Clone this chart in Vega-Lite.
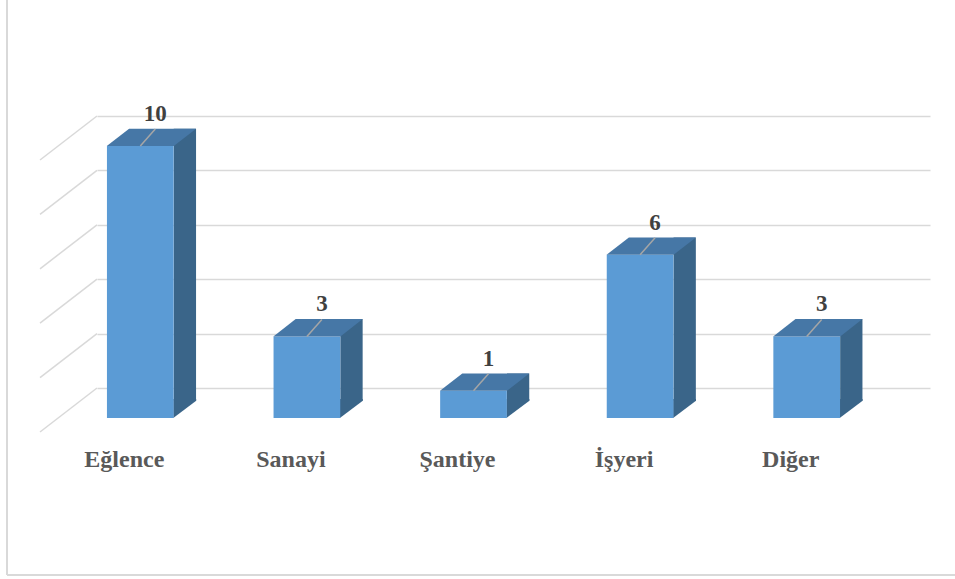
{
  "$schema": "https://vega.github.io/schema/vega-lite/v6.json",
  "width": 833,
  "height": 272,
  "autosize": "none",
  "padding": {"left": 97, "top": 116, "right": 25, "bottom": 191},
  "background": "white",
  "config": {
    "view": {"stroke": null},
    "font": "Liberation Serif",
    "axisY": {"grid": true, "gridColor": "#d9d9d9", "gridWidth": 1.5, "labels": false, "ticks": false, "domain": false},
    "axisX": {"grid": false, "domain": false, "ticks": false, "tickSize": 0, "labelPadding": 78, "labelBaseline": "alphabetic", "labelAngle": 0, "labelFont": "Liberation Serif", "labelFontSize": 24, "labelFontWeight": "bold", "labelColor": "#595959", "labelOffset": -56}
  },
  "datasets": {
    "bars": [
      {"kategori": "Eğlence", "deger": 10},
      {"kategori": "Sanayi", "deger": 3},
      {"kategori": "Şantiye", "deger": 1},
      {"kategori": "İşyeri", "deger": 6},
      {"kategori": "Diğer", "deger": 3}
    ],
    "grid": [{"v": 0}, {"v": 2}, {"v": 4}, {"v": 6}, {"v": 8}, {"v": 10}]
  },
  "data": {"name": "bars"},
  "layer": [
    {
      "data": {"name": "grid"},
      "mark": {"type": "rule", "color": "#d9d9d9", "strokeWidth": 1.5, "x2Offset": -57, "y2Offset": 44},
      "encoding": {
        "x": {"datum": "Eğlence", "bandPosition": 0, "title": null},
        "x2": {"datum": "Eğlence", "bandPosition": 0},
        "y": {"field": "v", "type": "quantitative", "title": null},
        "y2": {"field": "v"}
      }
    },
    {
      "mark": {"type": "rule", "color": "#d9d9d9", "strokeWidth": 2, "xOffset": -90, "yOffset": -116, "y2Offset": 187},
      "encoding": {
        "x": {"datum": "Eğlence", "bandPosition": 0, "title": null},
        "y": {"datum": 10, "type": "quantitative", "title": null},
        "y2": {"datum": 0}
      }
    },
    {
      "mark": {"type": "rule", "color": "#d9d9d9", "strokeWidth": 2, "xOffset": -90, "x2Offset": 25, "yOffset": 187},
      "encoding": {
        "x": {"datum": "Eğlence", "bandPosition": 0, "title": null},
        "x2": {"datum": "Diğer", "bandPosition": 1},
        "y": {"datum": 0, "type": "quantitative", "title": null}
      }
    },
    {
      "mark": {"type": "bar", "width": 22.3, "xOffset": 4.6, "yOffset": 12.7, "y2Offset": 12.7, "color": "#3A6589"},
      "encoding": {
        "x": {"field": "kategori", "type": "nominal", "sort": null, "title": null, "scale": {"domain": ["Eğlence", "Sanayi", "Şantiye", "İşyeri", "Diğer"], "paddingInner": 0, "paddingOuter": 0}},
        "y": {"field": "deger", "type": "quantitative", "title": null, "scale": {"domain": [0, 10], "nice": false}, "axis": {"values": [0, 2, 4, 6, 8, 10]}},
        "y2": {"datum": 0}
      }
    },
    {
      "mark": {"type": "point", "shape": "M-0.07,0L-0.07,-0.19L0.159,-0.19L0.159,-0.172Z", "size": 40000, "filled": true, "opacity": 1, "color": "#3A6589", "strokeWidth": 0, "yOffset": 30},
      "encoding": {
        "x": {"field": "kategori", "type": "nominal", "sort": null, "title": null},
        "y": {"datum": 0, "type": "quantitative", "title": null}
      }
    },
    {
      "mark": {"type": "bar", "width": 66.7, "xOffset": -40, "yOffset": 30, "y2Offset": 30, "color": "#5B9BD5"},
      "encoding": {
        "x": {"field": "kategori", "type": "nominal", "sort": null, "title": null},
        "y": {"field": "deger", "type": "quantitative", "title": null},
        "y2": {"datum": 0}
      }
    },
    {
      "mark": {"type": "point", "shape": "M-0.735,0L-0.065,0L0.158,-0.173L-0.512,-0.173Z", "size": 40000, "filled": true, "opacity": 1, "color": "#4677A6", "strokeWidth": 0, "yOffset": 30},
      "encoding": {
        "x": {"field": "kategori", "type": "nominal", "sort": null, "title": null},
        "y": {"field": "deger", "type": "quantitative", "title": null}
      }
    },
    {
      "mark": {"type": "point", "shape": "M-0.4,0.3L-0.25,0.13", "size": 40000, "filled": false, "opacity": 1, "color": "#a6a6a6", "strokeWidth": 1.5},
      "encoding": {
        "x": {"field": "kategori", "type": "nominal", "sort": null, "title": null},
        "y": {"field": "deger", "type": "quantitative", "title": null}
      }
    },
    {
      "mark": {"type": "text", "font": "Liberation Serif", "fontSize": 23, "fontWeight": "bold", "color": "#404040", "baseline": "alphabetic", "align": "center", "xOffset": -25, "yOffset": 5},
      "encoding": {
        "x": {"field": "kategori", "type": "nominal", "sort": null, "title": null},
        "y": {"field": "deger", "type": "quantitative", "title": null},
        "text": {"field": "deger", "type": "quantitative"}
      }
    }
  ]
}
